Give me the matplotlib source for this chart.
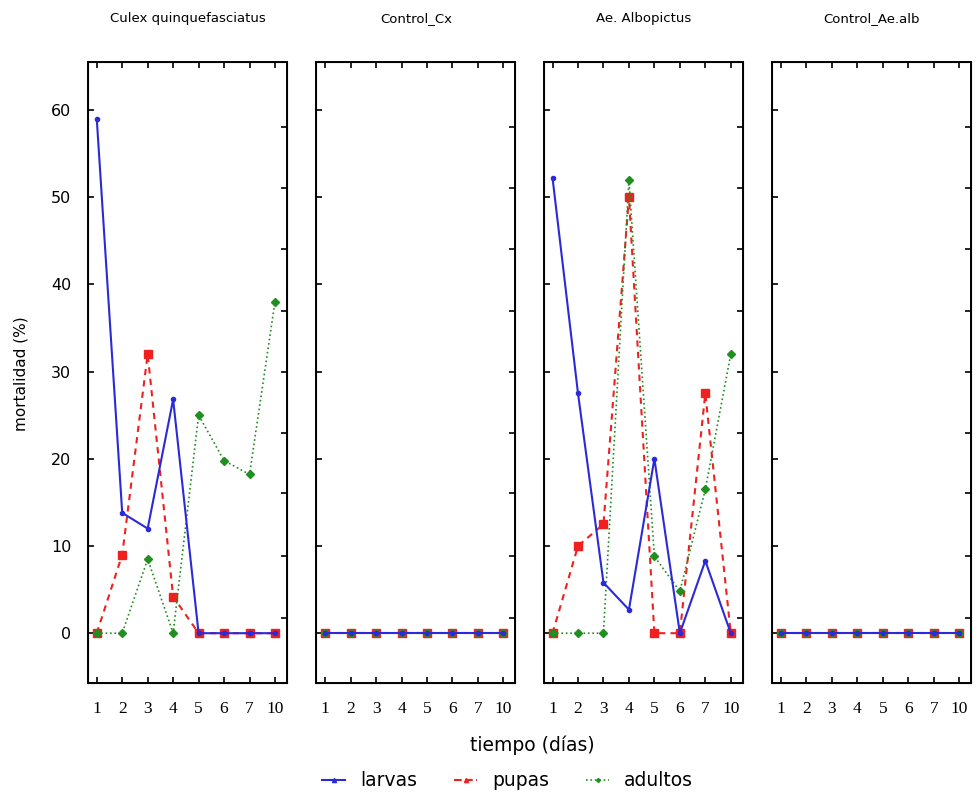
import numpy as np
import matplotlib.pyplot as plt
from matplotlib.lines import Line2D

dias = ['1', '2', '3', '4', '5', '6', '7', '10']
titulos = ['Culex quinquefasciatus', 'Control_Cx', 'Ae. Albopictus', 'Control_Ae.alb']

larvas = [
    [59, 13.8, 12, 26.8, 0, 0, 0, 0],
    [0, 0, 0, 0, 0, 0, 0, 0],
    [52.2, 27.5, 5.8, 2.7, 20, 0, 8.3, 0],
    [0, 0, 0, 0, 0, 0, 0, 0],
]
pupas = [
    [0, 9, 32, 4.2, 0, 0, 0, 0],
    [0, 0, 0, 0, 0, 0, 0, 0],
    [0, 10, 12.5, 50, 0, 0, 27.5, 0],
    [0, 0, 0, 0, 0, 0, 0, 0],
]
adultos = [
    [0, 0, 8.5, 0, 25, 19.8, 18.2, 38],
    [0, 0, 0, 0, 0, 0, 0, 0],
    [0, 0, 0, 52, 8.8, 4.8, 16.5, 32],
    [0, 0, 0, 0, 0, 0, 0, 0],
]

c_larvas = '#2a2ad8'
c_pupas = '#f02020'
c_adultos = '#1f8f1f'

fig = plt.figure(figsize=(9.76, 7.95), dpi=100)
lefts = [0.090, 0.324, 0.557, 0.791]
x = np.arange(1, 9)

for i in range(4):
    ax = fig.add_axes([lefts[i], 0.141, 0.204, 0.781])
    ax.plot(x, larvas[i], color=c_larvas, lw=1.5, marker='o', ms=3, zorder=3)
    ax.plot(x, pupas[i], color=c_pupas, lw=1.5, ls=(0, (3, 2.5)), marker='s', ms=5.5, zorder=2)
    ax.plot(x, adultos[i], color=c_adultos, lw=1.2, ls=':', marker='D', ms=4.5, zorder=2)
    ax.set_xlim(0.65, 8.47)
    ax.set_ylim(-5.7, 65.5)
    ax.set_xticks(x)
    ax.set_xticklabels(dias, family='Liberation Serif', fontsize=12.5)
    ax.set_yticks([0, 10, 20, 30, 40, 50, 60])
    ax.tick_params(direction='in', length=4, width=1.2, top=True, right=False)
    ax.tick_params(axis='x', pad=13)
    if i > 0:
        ax.set_yticklabels([])
    else:
        ax.tick_params(axis='y', labelsize=11.5, pad=12)
    for s in ax.spines.values():
        s.set_linewidth(1.4)
    ax.set_title(titulos[i], fontsize=9.5, pad=29)
    tw = ax.twinx()
    tw.set_ylim(-5.7, 65.5)
    tw.set_yticks([1.7, 8.8, 16.1, 23.0, 30.0, 37.0, 44.0, 51.0, 58.1])
    tw.set_yticklabels([])
    tw.tick_params(direction='in', length=4, width=1.2)

fig.text(0.022, 0.53, 'mortalidad (%)', rotation=90, ha='center', va='center', fontsize=11)
fig.text(0.545, 0.063, 'tiempo (días)', ha='center', va='center', fontsize=13.5)

handles = [
    Line2D([], [], color=c_larvas, lw=1.5, marker='^', ms=3),
    Line2D([], [], color=c_pupas, lw=1.5, ls='--', marker='^', ms=3),
    Line2D([], [], color=c_adultos, lw=1.2, ls=':', marker='D', ms=2),
]
fig.legend(handles, ['larvas', 'pupas', 'adultos'], loc='center', bbox_to_anchor=(0.52, 0.018),
           ncol=3, frameon=False, fontsize=13.5, handlelength=1.2, columnspacing=2.0)

plt.savefig('out.png', dpi=100)
